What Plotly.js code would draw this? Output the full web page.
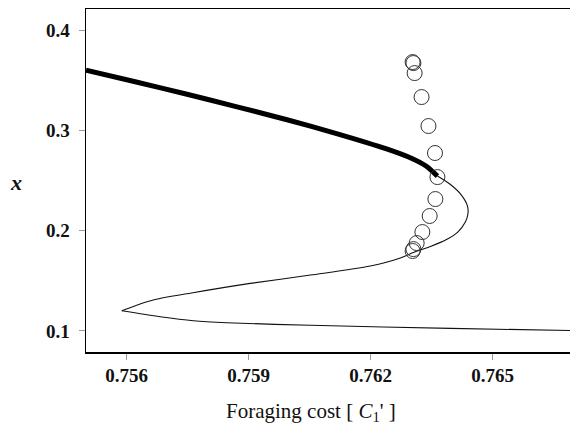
<!DOCTYPE html>
<html>
<head>
<meta charset="utf-8">
<script src="https://cdn.plot.ly/plotly-3.0.1.min.js"></script>
<style>html,body{margin:0;padding:0;background:#fff}#chart{width:570px;height:439px}</style>
</head>
<body>
<div id="chart"></div>
<script>
// Stable branch (thick line)
var thickX = [0.75500, 0.75621, 0.75746, 0.75869, 0.75992, 0.76116, 0.76239, 0.76300, 0.76337, 0.76364];
var thickY = [0.3601, 0.3485, 0.3362, 0.3237, 0.3108, 0.2968, 0.2815, 0.2722, 0.2642, 0.2544];

// Upper thin branch: from the end of the thick line, round the fold, down-left to the cusp
var upperX = [0.76364, 0.76396, 0.76423, 0.76438, 0.76439, 0.76433, 0.76414, 0.76384, 0.76347, 0.76305, 0.76273, 0.76199, 0.76052, 0.75904, 0.75763, 0.75665, 0.75588];
var upperY = [0.2544, 0.2460, 0.2355, 0.2245, 0.2166, 0.2089, 0.1986, 0.1906, 0.1842, 0.1782, 0.1727, 0.1647, 0.1557, 0.1474, 0.1381, 0.1308, 0.1201];

// Lower thin branch: from the cusp to the right
var lowerX = [0.75588, 0.75682, 0.75764, 0.75846, 0.76052, 0.76396, 0.76700];
var lowerY = [0.1201, 0.1142, 0.1102, 0.1082, 0.1056, 0.1026, 0.1003];

// Open circles (limit cycle extremes)
var circX = [0.76303, 0.76305, 0.76308, 0.76325, 0.76342, 0.76358, 0.76364, 0.76359, 0.76345, 0.76327, 0.76313, 0.76305, 0.76303];
var circY = [0.3681, 0.3671, 0.3571, 0.3332, 0.3043, 0.2774, 0.2534, 0.2315, 0.2146, 0.1986, 0.1876, 0.1816, 0.1797];

var xTickVals = [0.756, 0.759, 0.762, 0.765];
var xTickText = ["0.756", "0.759", "0.762", "0.765"];
var yTickVals = [0.1, 0.2, 0.3, 0.4];
var yTickText = ["0.1", "0.2", "0.3", "0.4"];

var serif = "Liberation Serif, Times New Roman, serif";

var traces = [
  {x: upperX, y: upperY, mode: "lines", line: {color: "#111", width: 1.1, shape: "spline", smoothing: 0.8}, hoverinfo: "skip"},
  {x: lowerX, y: lowerY, mode: "lines", line: {color: "#111", width: 1.1, shape: "spline", smoothing: 0.8}, hoverinfo: "skip"},
  {x: thickX, y: thickY, mode: "lines", line: {color: "#000", width: 5, shape: "spline", smoothing: 0.6}, hoverinfo: "skip"},
  {x: circX, y: circY, mode: "markers", marker: {symbol: "circle-open", size: 15, color: "#333", line: {width: 1}}, hoverinfo: "skip"}
];

var layout = {
  width: 570, height: 439,
  margin: {l: 86, r: 0, t: 9, b: 87},
  paper_bgcolor: "#fff", plot_bgcolor: "#fff",
  showlegend: false,
  xaxis: {
    range: [0.755, 0.7669],
    tickvals: xTickVals, ticktext: xTickText,
    ticks: "outside", ticklen: 6, tickwidth: 1, tickcolor: "#999",
    showline: true, linecolor: "#000", linewidth: 1.5, mirror: true,
    showgrid: false, zeroline: false,
    tickfont: {family: serif, size: 19, color: "#111", weight: "bold"}
  },
  yaxis: {
    range: [0.079, 0.421],
    tickvals: yTickVals, ticktext: yTickText,
    ticks: "outside", ticklen: 6, tickwidth: 1, tickcolor: "#999",
    ticklabelstandoff: 5,
    showline: true, linecolor: "#000", linewidth: 1.5,
    showgrid: false, zeroline: false,
    tickfont: {family: serif, size: 19, color: "#111", weight: "bold"}
  },
  annotations: [
    {text: "Foraging cost [ <i>C</i><sub>1</sub>' ]", xref: "paper", yref: "paper", x: 0.465, y: -0.175,
     xanchor: "center", yanchor: "middle", showarrow: false, font: {family: serif, size: 21, color: "#111"}},
    {text: "<b><i>x</i></b>", xref: "paper", yref: "paper", x: -0.1446, y: 0.4956,
     xanchor: "center", yanchor: "middle", showarrow: false, font: {family: serif, size: 22, color: "#111"}}
  ]
};

Plotly.newPlot("chart", traces, layout, {displayModeBar: false, staticPlot: true});
</script>
</body>
</html>
